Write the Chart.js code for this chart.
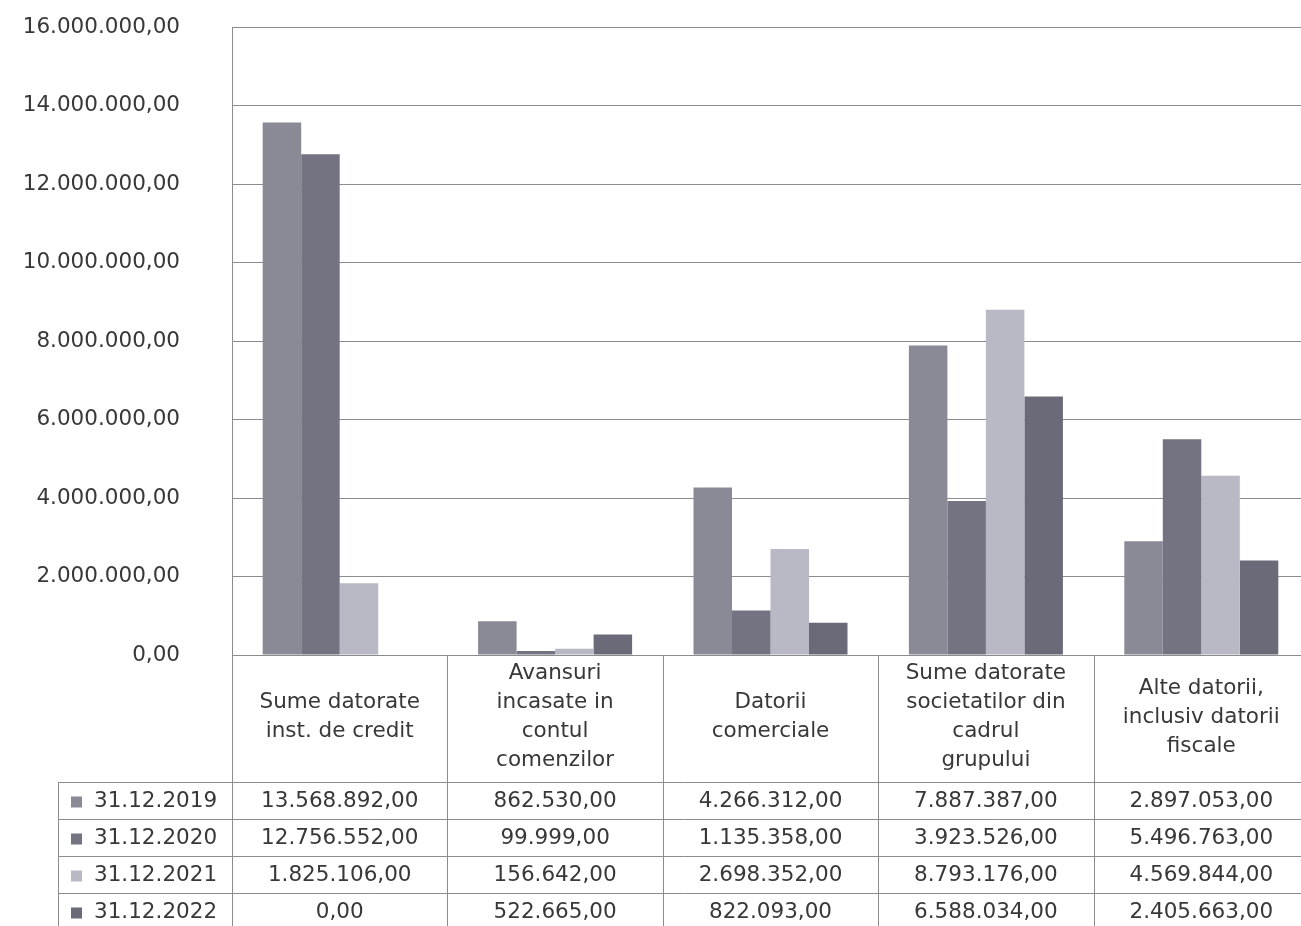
<!DOCTYPE html>
<html lang="ro">
<head>
    <meta charset="UTF-8">
    <title>Datorii 2019-2022</title>
    <script src="https://cdn.jsdelivr.net/npm/chart.js@4.4.0/dist/chart.umd.min.js"></script>
    <style>
        html, body {
            margin: 0;
            padding: 0;
            background: #ffffff;
            overflow: hidden;
        }
        #wrap {
            width: 1301px;
            height: 926px;
            overflow: hidden;
        }
        canvas {
            display: block;
        }
    </style>
</head>
<body>
    <div id="wrap">
        <canvas id="chart" width="1320" height="926" style="width:1320px;height:926px"></canvas>
    </div>

    <script>
        // categories (multi-line labels as shown in the table header)
        const categories = [
            ['Sume datorate', 'inst. de credit'],
            ['Avansuri', 'incasate in', 'contul', 'comenzilor'],
            ['Datorii', 'comerciale'],
            ['Sume datorate', 'societatilor din', 'cadrul', 'grupului'],
            ['Alte datorii,', 'inclusiv datorii', 'fiscale']
        ];
        const seriesLabels = ['31.12.2019', '31.12.2020', '31.12.2021', '31.12.2022'];
        const values2019 = [13568892, 862530, 4266312, 7887387, 2897053];
        const values2020 = [12756552, 99999, 1135358, 3923526, 5496763];
        const values2021 = [1825106, 156642, 2698352, 8793176, 4569844];
        const values2022 = [0, 522665, 822093, 6588034, 2405663];
        const yTicks = [0, 2000000, 4000000, 6000000, 8000000, 10000000, 12000000, 14000000, 16000000];

        const seriesValues = [values2019, values2020, values2021, values2022];
        const seriesColors = ['#8a8a97', '#737381', '#b9b9c6', '#6a6a79'];

        const FONT = '"DejaVu Sans", sans-serif';
        const TEXT = '#383838';
        const LINE = '#8c8c8c';

        // romanian number format: 13.568.892,00
        function fmt(v) {
            return Math.round(v).toString().replace(/\B(?=(\d{3})+(?!\d))/g, '.') + ',00';
        }

        // data table drawn under the plot, aligned on the x scale
        const dataTable = {
            id: 'dataTable',
            afterDraw(chart) {
                const ctx = chart.ctx;
                const x = chart.scales.x;
                const area = chart.chartArea;
                const half = (x.getPixelForValue(1) - x.getPixelForValue(0)) / 2;
                const headTop = area.bottom;
                const headH = 127;
                const rowH = 37;
                const legendLeft = 58;
                const bottom = chart.height;
                const right = area.right;

                ctx.save();
                ctx.strokeStyle = LINE;
                ctx.lineWidth = 1;

                // vertical lines between categories
                for (let i = 0; i <= categories.length; i++) {
                    const px = Math.round(x.getPixelForValue(i) - half) + 0.5;
                    ctx.beginPath();
                    ctx.moveTo(px, headTop);
                    ctx.lineTo(px, bottom);
                    ctx.stroke();
                }
                // legend column left edge
                ctx.beginPath();
                ctx.moveTo(legendLeft + 0.5, headTop + headH);
                ctx.lineTo(legendLeft + 0.5, bottom);
                ctx.stroke();

                // horizontal row lines
                for (let r = 0; r < seriesLabels.length; r++) {
                    const py = Math.round(headTop + headH + r * rowH) + 0.5;
                    ctx.beginPath();
                    ctx.moveTo(legendLeft, py);
                    ctx.lineTo(right, py);
                    ctx.stroke();
                }

                // header labels
                ctx.fillStyle = TEXT;
                ctx.font = '21.5px ' + FONT;
                ctx.textAlign = 'center';
                ctx.textBaseline = 'middle';
                const lh = 29;
                const midY = headTop + 62;
                categories.forEach((lines, i) => {
                    const cx = x.getPixelForValue(i);
                    const y0 = midY - (lines.length - 1) * lh / 2;
                    lines.forEach((t, k) => ctx.fillText(t, cx, y0 + k * lh));
                });

                // data rows
                seriesLabels.forEach((lab, r) => {
                    const cy = headTop + headH + r * rowH + rowH / 2 + 1;
                    ctx.fillStyle = seriesColors[r];
                    ctx.fillRect(legendLeft + 13, cy - 5, 11, 11);
                    ctx.fillStyle = TEXT;
                    ctx.textAlign = 'left';
                    ctx.fillText(lab, legendLeft + 36, cy);
                    ctx.textAlign = 'center';
                    seriesValues[r].forEach((v, i) => {
                        ctx.fillText(fmt(v), x.getPixelForValue(i), cy);
                    });
                });
                ctx.restore();
            }
        };

        new Chart(document.getElementById('chart'), {
            type: 'bar',
            data: {
                labels: categories,
                datasets: seriesLabels.map((lab, i) => ({
                    label: lab,
                    data: seriesValues[i],
                    backgroundColor: seriesColors[i],
                    borderWidth: 0,
                    categoryPercentage: 0.715,
                    barPercentage: 1.0
                }))
            },
            options: {
                responsive: false,
                animation: false,
                layout: {
                    padding: { top: 27, right: 11, bottom: 271, left: 0 }
                },
                plugins: {
                    legend: { display: false },
                    tooltip: { enabled: false }
                },
                scales: {
                    x: {
                        display: false
                    },
                    y: {
                        min: 0,
                        max: 16000000,
                        afterFit(scale) {
                            scale.width = 232;
                            scale.paddingTop = 14;
                            scale.paddingBottom = 14;
                        },
                        afterBuildTicks(scale) {
                            scale.ticks = yTicks.map(v => ({ value: v }));
                        },
                        grid: {
                            color: LINE,
                            lineWidth: 1,
                            drawTicks: false
                        },
                        border: { display: true, color: LINE },
                        ticks: {
                            padding: 52,
                            color: TEXT,
                            font: { family: FONT, size: 21.5 },
                            callback: v => fmt(v)
                        }
                    }
                }
            },
            plugins: [dataTable]
        });
    </script>
</body>
</html>
